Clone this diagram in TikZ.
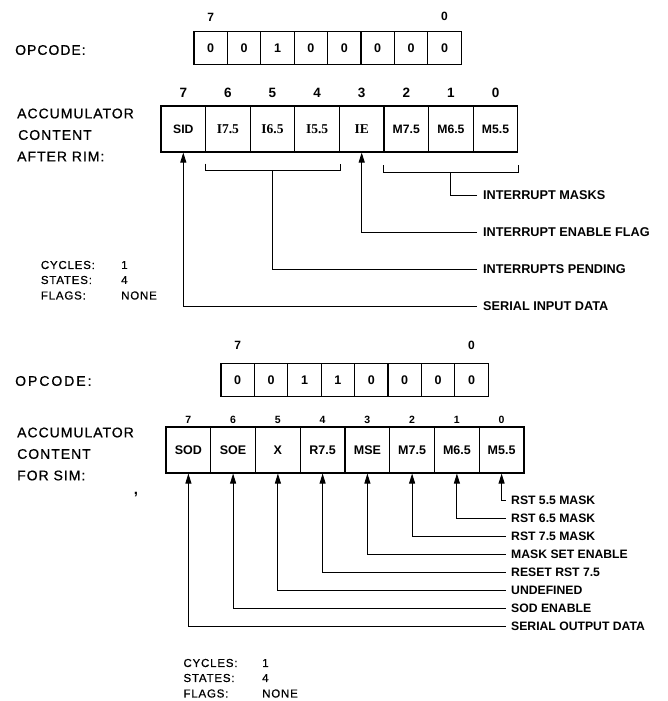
\documentclass[tikz,border=0pt]{standalone}
\usepackage{fontspec}
\setmainfont{Liberation Sans}
\newfontfamily\spaced[LetterSpace=7,FakeBold=0.7]{Liberation Sans}
\newfontfamily\spacedw[LetterSpace=14,FakeBold=0.7]{Liberation Sans}
\newfontfamily\serifbf{Liberation Serif}
\usetikzlibrary{arrows.meta}
\begin{document}
\begin{tikzpicture}[x=1pt,y=-1pt,
  opcell/.style={draw, line width=1.1pt, minimum width=33.4pt, minimum height=32.5pt, inner sep=0pt, font=\fontsize{12.5}{14}\selectfont\bfseries},
  rimcell/.style={draw, line width=1.1pt, minimum width=44.6pt, minimum height=46pt, inner sep=0pt, font=\fontsize{12.2}{14}\selectfont\bfseries},
  simcell/.style={draw, line width=1.1pt, minimum width=44.75pt, minimum height=46pt, inner sep=0pt, font=\fontsize{12.5}{14}\selectfont\bfseries},
  serifcell/.style={rimcell, font=\fontsize{13.5}{15}\selectfont\serifbf\bfseries},
  opbit/.style={inner sep=0pt, font=\fontsize{12}{14}\selectfont\bfseries},
  rimbit/.style={inner sep=0pt, font=\fontsize{13.5}{15}\selectfont\bfseries},
  simbit/.style={inner sep=0pt, font=\fontsize{10.5}{12}\selectfont\bfseries},
  leftlbl/.style={anchor=west, inner sep=0pt, font=\fontsize{14}{16}\selectfont\spaced},
  leftlblw/.style={anchor=west, inner sep=0pt, font=\fontsize{14}{16}\selectfont\spacedw},
  infolbl/.style={anchor=west, inner sep=0pt, font=\fontsize{11.5}{13}\selectfont\spaced},
  rlbl/.style={anchor=west, inner xsep=6pt, inner ysep=0pt, font=\fontsize{12.7}{14}\selectfont\bfseries},
  slbl/.style={anchor=west, inner xsep=5.5pt, inner ysep=0pt, font=\fontsize{12.2}{14}\selectfont\bfseries},
  conn/.style={line width=0.9pt},
  arr/.style={line width=0.9pt, -{Triangle[length=10pt,width=6pt]}}
]
\useasboundingbox (0,0) rectangle (668,701);

% ---------- RIM part ----------
\node[leftlbl] (opA) at (15,50) {OPCODE:};
\foreach \t [count=\i from 0] in {0,0,1,0,0,0,0,0}
  \node[opcell] (oa\i) at (210.7+33.4*\i,48) {\t};
\node[opbit] (oa7b) at (210.7,17) {7};
\node[opbit] (oa0b) at (444.5,16.5) {0};

\node[leftlbl] (accA1) at (17,113.5) {ACCUMULATOR};
\node[leftlbl] (accA2) at (18,135) {CONTENT};
\node[leftlbl] (accA3) at (17,156.5) {AFTER RIM:};

\node[rimcell] (sid) at (183.3,129) {SID};
\node[serifcell] (i75) at (227.9,129) {I7.5};
\node[serifcell] (i65) at (272.5,129) {I6.5};
\node[serifcell] (i55) at (317.1,129) {I5.5};
\node[serifcell] (ie)  at (361.7,129) {IE};
\node[rimcell] (m75) at (406.3,129) {M7.5};
\node[rimcell] (m65) at (450.9,129) {M6.5};
\node[rimcell] (m55) at (495.5,129) {M5.5};
\foreach \b [count=\i from 0] in {7,6,5,4,3,2,1,0}
  \node[rimbit] (rb\i) at (183.3+44.6*\i,93) {\b};

% brackets
\coordinate (bi) at ([yshift=-18pt]i65.south);
\coordinate (bm) at ([yshift=-20pt]m65.south);
\draw[conn] ([yshift=-11pt]i75.south west) |- ([yshift=-18pt]i55.south east) -- ([yshift=-11pt]i55.south east);
\draw[conn] ([yshift=-12.5pt]m75.south west) |- ([yshift=-20pt]m55.south east) -- ([yshift=-12.5pt]m55.south east);

\node[rlbl] (lmask) at (477,195.5) {INTERRUPT MASKS};
\node[rlbl] (lief)  at (477,232) {INTERRUPT ENABLE FLAG};
\node[rlbl] (lpend) at (477,269) {INTERRUPTS PENDING};
\node[rlbl] (lsid)  at (477,306) {SERIAL INPUT DATA};

\draw[conn] (lmask.west) -| (bm);
\draw[arr] (lief.west) -| (ie.south);
\draw[conn] (lpend.west) -| (bi);
\draw[arr] (lsid.west) -| (sid.south);

\node[infolbl] (cycA) at (40.7,265) {CYCLES:};
\node[infolbl] (stA) at (40.7,280) {STATES:};
\node[infolbl] (flA) at (40.7,295.5) {FLAGS:};
\node[infolbl] (cycAv) at (121,265) {1};
\node[infolbl] (stAv) at (121,280) {4};
\node[infolbl] (flAv) at (121,295.5) {NONE};

% ---------- SIM part ----------
\node[leftlblw] (opB) at (15,381) {OPCODE:};
\foreach \t [count=\i from 0] in {0,0,1,1,0,0,0,0}
  \node[opcell] (ob\i) at (237.7+33.4*\i,380) {\t};
\node[opbit] (ob7b) at (237.7,345) {7};
\node[opbit] (ob0b) at (471.5,345) {0};

\node[leftlbl] (accB1) at (17,432.5) {ACCUMULATOR};
\node[leftlbl] (accB2) at (17,454) {CONTENT};
\node[leftlbl] (accB3) at (17,475.5) {FOR SIM:};
\node[inner sep=0pt, font=\fontsize{15}{16}\selectfont\bfseries] (comma) at (136,495) {,};

\node[simcell] (sod)  at (188.4,450) {SOD};
\node[simcell] (soe)  at (233.1,450) {SOE};
\node[simcell] (x)    at (277.9,450) {X};
\node[simcell] (r75)  at (322.6,450) {R7.5};
\node[simcell] (mse)  at (367.4,450) {MSE};
\node[simcell] (sm75) at (412.1,450) {M7.5};
\node[simcell] (sm65) at (456.9,450) {M6.5};
\node[simcell] (sm55) at (501.6,450) {M5.5};
\foreach \b [count=\i from 0] in {7,6,5,4,3,2,1,0}
  \node[simbit] (sb\i) at (188.4+44.75*\i,419.5) {\b};

\node[slbl] (s0) at (505.5,500) {RST 5.5 MASK};
\node[slbl] (s1) at (505.5,518.1) {RST 6.5 MASK};
\node[slbl] (s2) at (505.5,536.2) {RST 7.5 MASK};
\node[slbl] (s3) at (505.5,554.3) {MASK SET ENABLE};
\node[slbl] (s4) at (505.5,572.4) {RESET RST 7.5};
\node[slbl] (s5) at (505.5,590.5) {UNDEFINED};
\node[slbl] (s6) at (505.5,608.6) {SOD ENABLE};
\node[slbl] (s7) at (505.5,626.7) {SERIAL OUTPUT DATA};

\draw[arr] (s0.west) -| (sm55.south);
\draw[arr] (s1.west) -| (sm65.south);
\draw[arr] (s2.west) -| (sm75.south);
\draw[arr] (s3.west) -| (mse.south);
\draw[arr] (s4.west) -| (r75.south);
\draw[arr] (s5.west) -| (x.south);
\draw[arr] (s6.west) -| (soe.south);
\draw[arr] (s7.west) -| (sod.south);

\node[infolbl] (cycB) at (183.3,663) {CYCLES:};
\node[infolbl] (stB) at (183.3,678) {STATES:};
\node[infolbl] (flB) at (183.3,693.5) {FLAGS:};
\node[infolbl] (cycBv) at (262,663) {1};
\node[infolbl] (stBv) at (262,678) {4};
\node[infolbl] (flBv) at (262,693.5) {NONE};
\end{tikzpicture}
\end{document}
